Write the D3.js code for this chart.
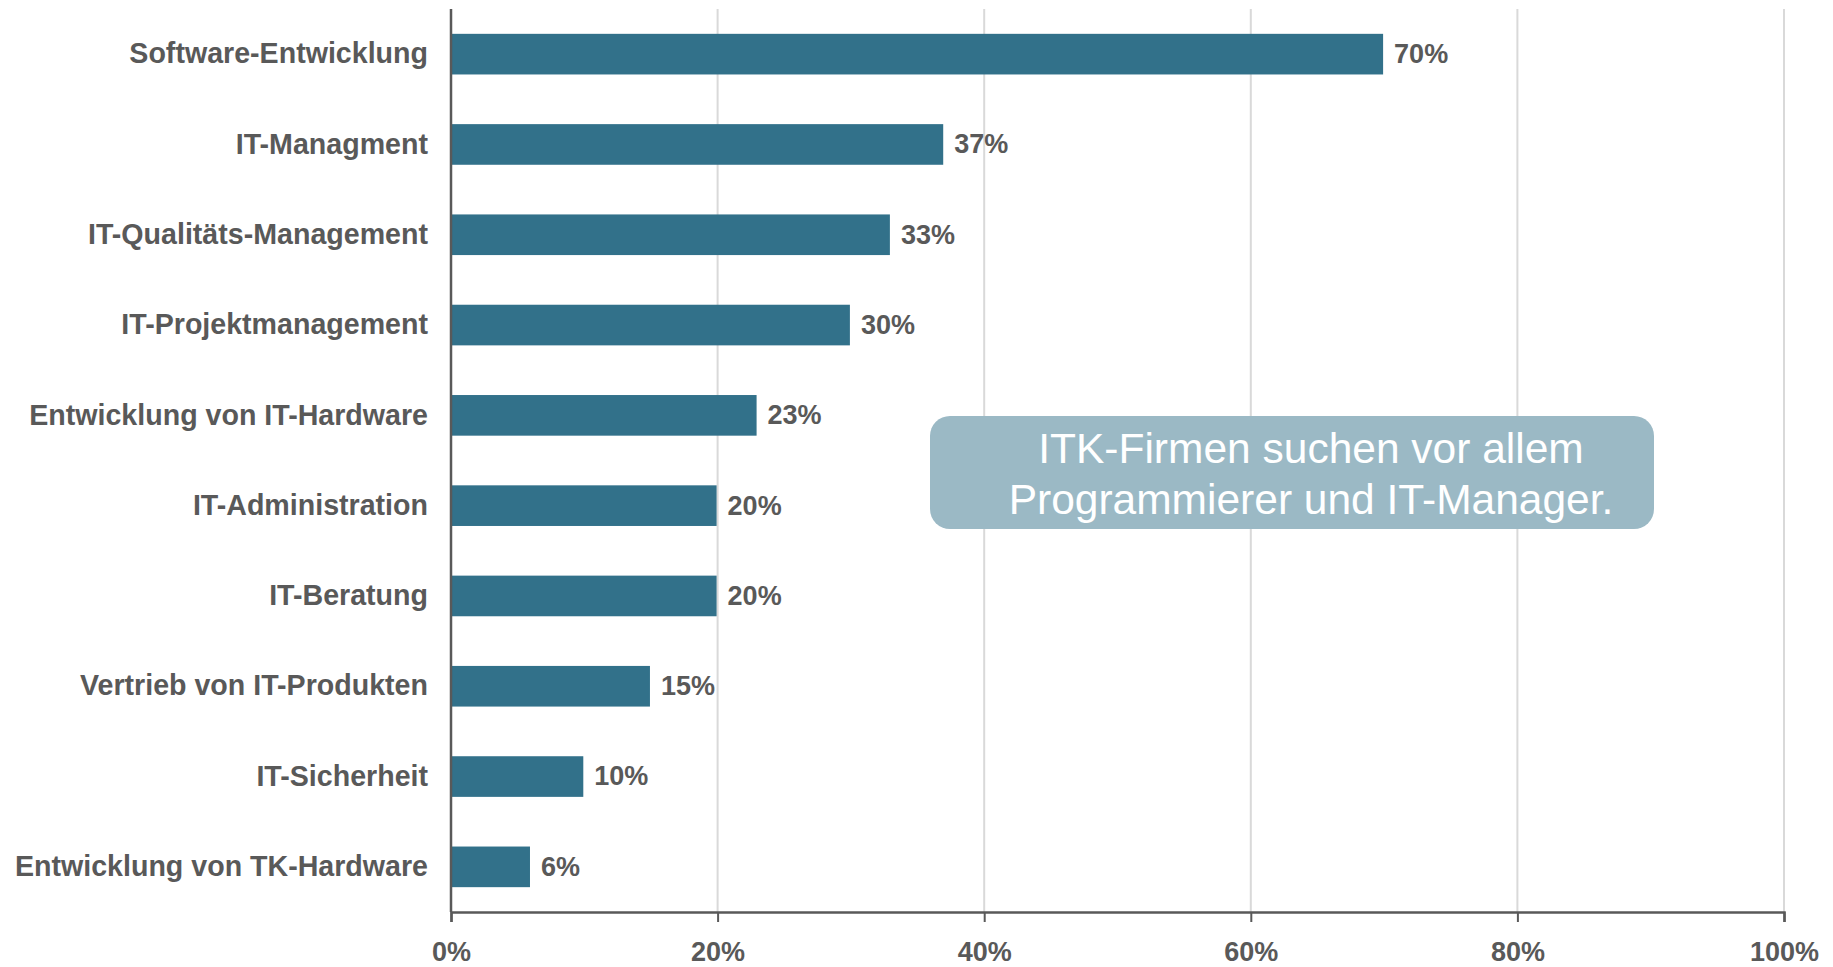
<!DOCTYPE html>
<html>
<head>
<meta charset="utf-8">
<script src="https://cdn.jsdelivr.net/npm/d3@7"></script>
<style>
  body { margin: 0; background: #fff; }
  svg { display: block; font-family: "Liberation Sans", Arial, sans-serif; }
</style>
</head>
<body>
<script>
// data
const categories = [
  "Software-Entwicklung",
  "IT-Managment",
  "IT-Qualitäts-Management",
  "IT-Projektmanagement",
  "Entwicklung von IT-Hardware",
  "IT-Administration",
  "IT-Beratung",
  "Vertrieb von IT-Produkten",
  "IT-Sicherheit",
  "Entwicklung von TK-Hardware"
];
const values = [70, 37, 33, 30, 23, 20, 20, 15, 10, 6];
const xTicks = [0, 20, 40, 60, 80, 100];
const noteLines = ["ITK-Firmen suchen vor allem", "Programmierer und IT-Manager."];

const W = 1833, H = 967;
const grey = "#595959";

const svg = d3.select("body").append("svg")
    .attr("width", W)
    .attr("height", H);

const x = d3.scaleLinear().domain([0, 100]).range([451, 1784]);
const y = d3.scaleBand().domain(categories).range([9, 912])
    .paddingInner(0.55).paddingOuter(0.275);

// vertical gridlines
svg.append("g").selectAll("line")
    .data(xTicks.filter(d => d > 0))
    .enter().append("line")
    .attr("x1", d => x(d)).attr("x2", d => x(d))
    .attr("y1", 9).attr("y2", 912)
    .attr("stroke", "#d9d9d9")
    .attr("stroke-width", 2);

// bars
svg.append("g").selectAll("rect")
    .data(values)
    .enter().append("rect")
    .attr("x", x(0) + 1)
    .attr("y", (d, i) => y(categories[i]))
    .attr("width", d => x(d) - x(0) - 2)
    .attr("height", y.bandwidth())
    .attr("fill", "#32718a");

// value labels
svg.append("g").selectAll("text")
    .data(values)
    .enter().append("text")
    .attr("x", d => x(d) + 10)
    .attr("y", (d, i) => y(categories[i]) + y.bandwidth() / 2)
    .attr("dy", "0.33em")
    .attr("fill", grey)
    .attr("font-size", 27)
    .attr("font-weight", "bold")
    .text(d => d + "%");

// x axis
const xAxis = svg.append("g")
    .attr("transform", "translate(0,912)")
    .call(d3.axisBottom(x).tickValues(xTicks).tickSize(10).tickPadding(20).tickFormat(d => d + "%"));
xAxis.select(".domain").attr("stroke", grey).attr("stroke-width", 2.5);
xAxis.selectAll(".tick line").attr("stroke", grey).attr("stroke-width", 2);
xAxis.selectAll(".tick text")
    .attr("fill", grey)
    .attr("font-size", 27)
    .attr("font-weight", "bold")
    .attr("font-family", "Liberation Sans, Arial, sans-serif");

// y axis
const yAxis = svg.append("g")
    .attr("transform", "translate(" + x(0) + ",0)")
    .call(d3.axisLeft(y).tickSize(0).tickPadding(23));
yAxis.select(".domain").attr("stroke", grey).attr("stroke-width", 2.5)
    .attr("d", "M0,9V912");
yAxis.selectAll(".tick text")
    .attr("fill", grey)
    .attr("font-size", 28.6)
    .attr("font-weight", "bold")
    .attr("font-family", "Liberation Sans, Arial, sans-serif");

// annotation box
const note = svg.append("g");
note.append("rect")
    .attr("x", 930).attr("y", 416)
    .attr("width", 724).attr("height", 113)
    .attr("rx", 20).attr("ry", 20)
    .attr("fill", "#9bb9c5");
note.selectAll("text")
    .data(noteLines)
    .enter().append("text")
    .attr("x", 1311)
    .attr("y", (d, i) => 463 + i * 51)
    .attr("text-anchor", "middle")
    .attr("fill", "#fff")
    .attr("font-size", 42.5)
    .text(d => d);
</script>
</body>
</html>
